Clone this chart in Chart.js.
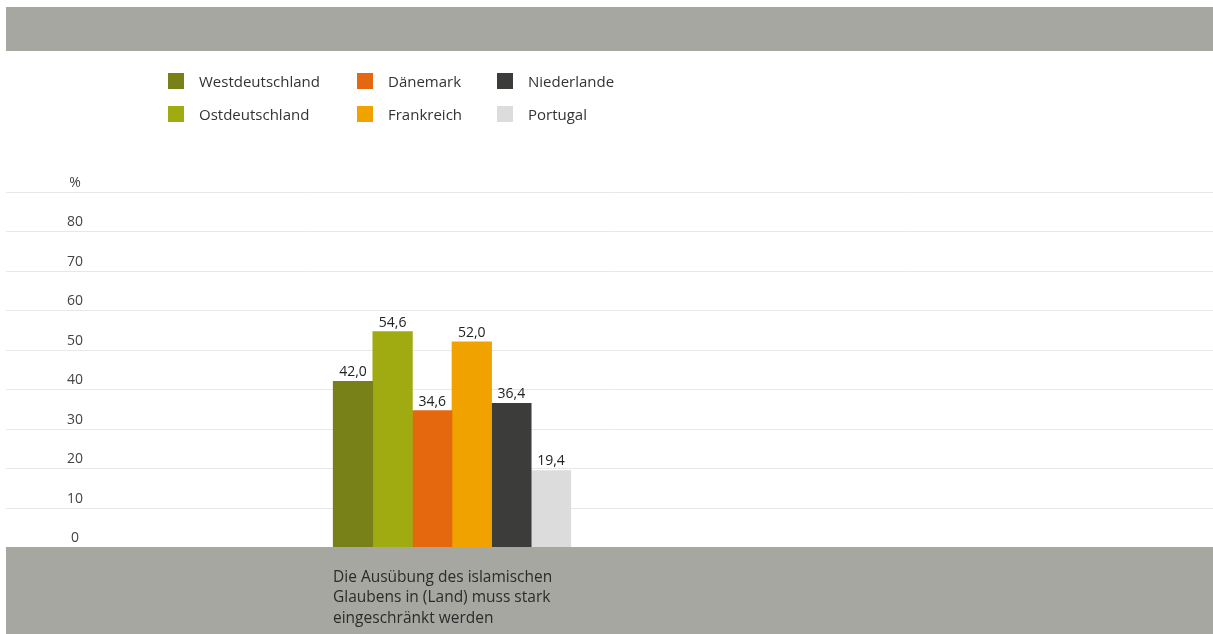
<!DOCTYPE html>
<html>
<head>
<meta charset="utf-8">
<script src="https://cdn.jsdelivr.net/npm/chart.js@4/dist/chart.umd.min.js"></script>
<style>
  html, body { margin: 0; padding: 0; background: #fff; }
  #wrap { position: relative; width: 1213px; height: 634px; }
  #legend {
    position: absolute; left: 168px; top: 72px;
    display: grid; grid-auto-flow: column;
    grid-template-rows: 33px 33px; grid-template-columns: 189px 140px auto;
    font: 15px "Open Sans", sans-serif; color: #333;
  }
  .item { display: flex; align-items: center; height: 18px; }
  .box { width: 16px; height: 16px; margin-right: 15px; }
</style>
</head>
<body>
<div id="wrap">
  <canvas id="chart" width="1213" height="634"></canvas>
  <div id="legend"></div>
</div>
<script>
// data
var categories = [['Die Ausübung des islamischen', 'Glaubens in (Land) muss stark', 'eingeschränkt werden']];
var regions = ['Westdeutschland', 'Ostdeutschland', 'Dänemark', 'Frankreich', 'Niederlande', 'Portugal'];
var westdeutschland = [42.0];
var ostdeutschland = [54.6];
var daenemark = [34.6];
var frankreich = [52.0];
var niederlande = [36.4];
var portugal = [19.4];
var yTicks = [0, 10, 20, 30, 40, 50, 60, 70, 80, 90];
var yUnit = '%';

var seriesValues = [westdeutschland, ostdeutschland, daenemark, frankreich, niederlande, portugal];
var colors = ['#778118', '#a0ab12', '#e5680f', '#f0a300', '#3c3c3a', '#dcdcdc'];
var bandColor = '#a7a7a2';

document.addEventListener('DOMContentLoaded', function () {
    // html legend, two rows of three
    var legend = document.getElementById('legend');
    regions.forEach(function (name, i) {
        var el = document.createElement('div');
        el.className = 'item';
        el.innerHTML = '<span class="box" style="background:' + colors[i] + '"></span>' + name;
        legend.appendChild(el);
    });

    // grey bands and full width grid lines, under the axes
    var background = {
        id: 'background',
        beforeDraw: function (chart) {
            var ctx = chart.ctx, y = chart.scales.y, w = chart.width;
            ctx.save();
            ctx.fillStyle = bandColor;
            ctx.fillRect(6, 7, w - 6, 44);
            ctx.fillRect(6, chart.chartArea.bottom, w - 6, chart.height - chart.chartArea.bottom);
            ctx.strokeStyle = '#e8e8e8';
            ctx.lineWidth = 1;
            y.ticks.forEach(function (t) {
                if (t.value === 0) return;
                var py = Math.round(y.getPixelForValue(t.value)) + 0.5;
                ctx.beginPath();
                ctx.moveTo(6, py);
                ctx.lineTo(w, py);
                ctx.stroke();
            });
            ctx.restore();
        }
    };

    var valueLabels = {
        id: 'valueLabels',
        afterDatasetsDraw: function (chart) {
            var ctx = chart.ctx;
            ctx.save();
            ctx.font = '14px "Open Sans", sans-serif';
            ctx.fillStyle = '#222';
            ctx.textAlign = 'center';
            ctx.textBaseline = 'bottom';
            chart.data.datasets.forEach(function (ds, i) {
                chart.getDatasetMeta(i).data.forEach(function (bar, j) {
                    ctx.fillText(ds.data[j].toFixed(1).replace('.', ','), bar.x, bar.y - 2);
                });
            });
            ctx.restore();
        }
    };

    var ctx = document.getElementById('chart').getContext('2d');
    new Chart(ctx, {
        type: 'bar',
        data: {
            labels: categories,
            datasets: regions.map(function (name, i) {
                return {
                    label: name,
                    data: seriesValues[i],
                    backgroundColor: colors[i],
                    borderWidth: 0,
                    barThickness: 39.6
                };
            })
        },
        options: {
            responsive: false,
            animation: false,
            layout: { padding: { left: 6, right: 315, top: 192, bottom: 0 } },
            plugins: {
                legend: { display: false },
                tooltip: { enabled: false }
            },
            scales: {
                x: {
                    grid: { display: false, drawTicks: false },
                    border: { display: false },
                    ticks: {
                        align: 'start',
                        labelOffset: -119,
                        padding: 20,
                        color: '#2b2b2b',
                        font: { family: 'Open Sans', size: 15.5, lineHeight: 1.33 }
                    },
                    afterFit: function (s) { s.height = 87; }
                },
                y: {
                    min: 0,
                    max: 90,
                    afterBuildTicks: function (s) {
                        s.ticks = yTicks.map(function (v) { return { value: v }; });
                    },
                    grid: { display: false, drawTicks: false },
                    border: { display: false },
                    ticks: {
                        mirror: true,
                        crossAlign: 'center',
                        padding: 61,
                        labelOffset: -9,
                        color: '#444',
                        font: { family: 'Open Sans', size: 14 },
                        callback: function (v) { return v === 90 ? yUnit : v; }
                    },
                    afterFit: function (s) { s.width = 0; }
                }
            }
        },
        plugins: [background, valueLabels]
    });
});
</script>
</body>
</html>
